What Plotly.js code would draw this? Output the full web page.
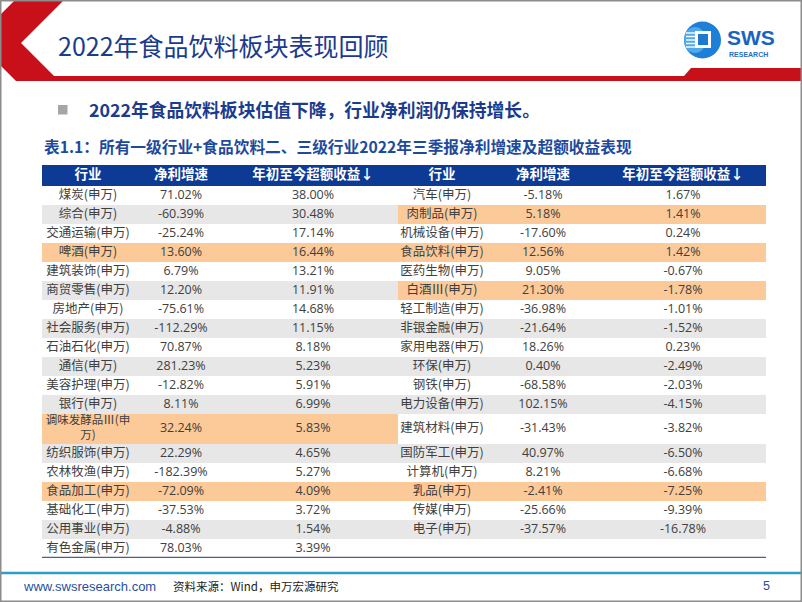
<!DOCTYPE html>
<html><head><meta charset="utf-8">
<script src="https://cdn.plot.ly/plotly-3.0.1.min.js"></script>
<style>html,body{margin:0;padding:0;background:#fff}#chart{width:802px;height:602px}</style>
</head><body><div id="chart"></div>
<script>
// ---------- data ----------
const headers = ['行业', '净利增速', '年初至今超额收益↓'];

const leftIndustry = ['煤炭(申万)','综合(申万)','交通运输(申万)','啤酒(申万)','建筑装饰(申万)','商贸零售(申万)','房地产(申万)','社会服务(申万)','石油石化(申万)','通信(申万)','美容护理(申万)','银行(申万)','调味发酵品Ⅲ(申万)','纺织服饰(申万)','农林牧渔(申万)','食品加工(申万)','基础化工(申万)','公用事业(申万)','有色金属(申万)'];
const leftGrowth = [71.02,-60.39,-25.24,13.60,6.79,12.20,-75.61,-112.29,70.87,281.23,-12.82,8.11,32.24,22.29,-182.39,-72.09,-37.53,-4.88,78.03];
const leftExcess = [38.00,30.48,17.14,16.44,13.21,11.91,14.68,11.15,8.18,5.23,5.91,6.99,5.83,4.65,5.27,4.09,3.72,1.54,3.39];

const rightIndustry = ['汽车(申万)','肉制品(申万)','机械设备(申万)','食品饮料(申万)','医药生物(申万)','白酒Ⅲ(申万)','轻工制造(申万)','非银金融(申万)','家用电器(申万)','环保(申万)','钢铁(申万)','电力设备(申万)','建筑材料(申万)','国防军工(申万)','计算机(申万)','乳品(申万)','传媒(申万)','电子(申万)'];
const rightGrowth = [-5.18,5.18,-17.60,12.56,9.05,21.30,-36.98,-21.64,18.26,0.40,-68.58,102.15,-31.43,40.97,8.21,-2.41,-25.66,-37.57];
const rightExcess = [1.67,1.41,0.24,1.42,-0.67,-1.78,-1.01,-1.52,0.23,-2.49,-2.03,-4.15,-3.82,-6.50,-6.68,-7.25,-9.39,-16.78];

const highlighted = ['啤酒(申万)','调味发酵品Ⅲ(申万)','食品加工(申万)','肉制品(申万)','食品饮料(申万)','白酒Ⅲ(申万)','乳品(申万)'];

// ---------- layout constants ----------
const W = 802, H = 602;
const FONT = "'Open Sans','Noto Sans CJK SC',sans-serif";
const CJK = "'Noto Sans CJK SC','Open Sans',sans-serif";
const colEdges = [0, 92, 186, 356, 444, 558, 724];
const headerH = 21, rowH = 19, tallRowH = 30;
const BLUE_HDR = '#0c3a94', ORANGE = '#fcc998', GREY = '#e7e7e7', TXT = '#404040';
const TITLE_BLUE = '#1a3b8e';
const BODY_SIZE = 12.5, WRAP_SIZE = 11.5;

const ctx = document.createElement('canvas').getContext('2d');
function measure(s, size) {
  ctx.font = size + "px 'Noto Sans CJK SC', sans-serif";
  return ctx.measureText(s).width;
}
function wrap(s, maxW, size) {
  if (measure(s, size) <= maxW) return [s];
  const lines = []; let cur = '';
  for (const ch of s) {
    if (cur && measure(cur + ch, WRAP_SIZE) > maxW - 4) { lines.push(cur); cur = ch; }
    else cur += ch;
  }
  if (cur) lines.push(cur);
  return lines;
}
const fmt = v => v.toFixed(2) + '%';

const halves = [
  {ind: leftIndustry, g: leftGrowth, e: leftExcess, c0: 0},
  {ind: rightIndustry, g: rightGrowth, e: rightExcess, c0: 3}
];
const nRows = Math.max(leftIndustry.length, rightIndustry.length);

halves.forEach(h => {
  const cw = colEdges[h.c0 + 1] - colEdges[h.c0];
  h.lines = h.ind.map(s => wrap(s, cw, BODY_SIZE));
});

const rowHeights = [];
for (let i = 0; i < nRows; i++) {
  let nl = 1;
  halves.forEach(h => { if (h.lines[i]) nl = Math.max(nl, h.lines[i].length); });
  rowHeights.push(nl > 1 ? tallRowH : rowH);
}
const rowTops = []; let acc = headerH;
rowHeights.forEach(rh => { rowTops.push(acc); acc += rh; });
const totalH = acc;

const colCenter = c => (colEdges[c] + colEdges[c + 1]) / 2;

// ---------- shapes ----------
const shapes = [];
shapes.push({type:'rect', xref:'x', yref:'y', x0:colEdges[0], x1:colEdges[6], y0:0, y1:headerH,
  fillcolor:BLUE_HDR, line:{width:0}, layer:'below'});
halves.forEach(h => {
  h.ind.forEach((name, i) => {
    let col = null;
    if (highlighted.includes(name)) col = ORANGE;
    else if (i % 2 === 1) col = GREY;
    if (!col) return;
    shapes.push({type:'rect', xref:'x', yref:'y', x0:colEdges[h.c0], x1:colEdges[h.c0 + 3],
      y0:rowTops[i], y1:rowTops[i] + rowHeights[i], fillcolor:col, line:{width:0}, layer:'below'});
  });
});
shapes.push({type:'line', xref:'x', yref:'y', x0:colEdges[0], x1:colEdges[6], y0:totalH, y1:totalH,
  line:{color:'#4e5d8e', width:2.5}});

const px = x => x / W, py = y => 1 - y / H;
const P = (x, y) => px(x) + ',' + py(y);
shapes.push({type:'path', xref:'paper', yref:'paper',
  path:'M'+P(15,0)+' L'+P(64,0)+' L'+P(21,43)+' L'+P(54,76)+' L'+P(684,76)+' L'+P(691,68)+' L'+P(802,68)+
       ' L'+P(802,81)+' L'+P(16,81)+' L'+P(0,65)+' L'+P(0,15)+' Z',
  fillcolor:'#c8101a', line:{width:0}});
// logo
shapes.push({type:'circle', xref:'paper', yref:'paper', x0:px(684), x1:px(721), y0:py(58.5), y1:py(21.5),
  fillcolor:'#1e7fd6', line:{width:0}});
shapes.push({type:'circle', xref:'paper', yref:'paper', x0:px(684), x1:px(706), y0:py(53), y1:py(27),
  fillcolor:'#4fa9ea', line:{width:0}});
[33,36.5,40,43.5,47].forEach(y => shapes.push({type:'line', xref:'paper', yref:'paper',
  x0:px(686), x1:px(697), y0:py(y), y1:py(y), line:{color:'#ffffff', width:1.4}}));
shapes.push({type:'rect', xref:'paper', yref:'paper', x0:px(695), x1:px(711), y0:py(48), y1:py(31),
  fillcolor:'#ffffff', line:{width:0}});
shapes.push({type:'rect', xref:'paper', yref:'paper', x0:px(698), x1:px(708), y0:py(45), y1:py(34),
  fillcolor:'#1f78d0', line:{width:0}});
shapes.push({type:'rect', xref:'paper', yref:'paper', x0:px(58), x1:px(67.5), y0:py(114.5), y1:py(105),
  fillcolor:'#a6a6a6', line:{width:0}});
shapes.push({type:'line', xref:'paper', yref:'paper', x0:0, x1:1, y0:py(573), y1:py(573),
  line:{color:'#2f9fc6', width:2.5}});
shapes.push({type:'rect', xref:'paper', yref:'paper', x0:px(0.75), x1:px(801.25), y0:py(601.25), y1:py(0.75),
  line:{color:'#8c8c8c', width:1.5}, fillcolor:'rgba(0,0,0,0)'});

// ---------- traces ----------
const hx = [], hy = [], ht = [];
[0, 3].forEach(c0 => headers.forEach((t, k) => { hx.push(colCenter(c0 + k)); hy.push(headerH / 2); ht.push(t); }));
const lx = [], ly = [], lt = [], ls = [];
const bx = [], by = [], bt = [];
halves.forEach(h => {
  h.ind.forEach((name, i) => {
    const yc = rowTops[i] + rowHeights[i] / 2;
    lx.push(colCenter(h.c0)); ly.push(yc); lt.push(h.lines[i].join('<br>'));
    ls.push(h.lines[i].length > 1 ? WRAP_SIZE : BODY_SIZE);
    bx.push(colCenter(h.c0 + 1)); by.push(yc); bt.push(fmt(h.g[i]));
    bx.push(colCenter(h.c0 + 2)); by.push(yc); bt.push(fmt(h.e[i]));
  });
});

const traces = [
  {type:'scatter', mode:'text', x:hx, y:hy, text:ht, textposition:'middle center', hoverinfo:'skip',
   cliponaxis:false, showlegend:false, textfont:{family:CJK, size:13.5, color:'#ffffff', weight:'bold'}},
  {type:'scatter', mode:'text', x:lx, y:ly, text:lt, textposition:'middle center', hoverinfo:'skip',
   cliponaxis:false, showlegend:false, textfont:{family:CJK, size:ls, color:TXT}},
  {type:'scatter', mode:'text', x:bx, y:by, text:bt, textposition:'middle center', hoverinfo:'skip',
   cliponaxis:false, showlegend:false, textfont:{family:FONT, size:BODY_SIZE, color:TXT}}
];

const annotations = [
  {xref:'paper', yref:'paper', x:px(56), y:py(45), xanchor:'left', yanchor:'middle', showarrow:false,
   text:'2022年食品饮料板块表现回顾', font:{family:CJK, size:25, color:TITLE_BLUE}},
  {xref:'paper', yref:'paper', x:px(87), y:py(109), xanchor:'left', yanchor:'middle', showarrow:false,
   text:'<b>2022年食品饮料板块估值下降，行业净利润仍保持增长。</b>', font:{family:CJK, size:17.8, color:TITLE_BLUE}},
  {xref:'paper', yref:'paper', x:px(42), y:py(146), xanchor:'left', yanchor:'middle', showarrow:false,
   text:'<b>表1.1：所有一级行业+食品饮料二、三级行业2022年三季报净利增速及超额收益表现</b>', font:{family:CJK, size:15.7, color:'#1e4a9c'}},
  {xref:'paper', yref:'paper', x:px(725), y:py(38), xanchor:'left', yanchor:'middle', showarrow:false,
   text:'<b>SWS</b>', font:{family:"'Liberation Sans',Arial,sans-serif", size:21, color:'#1a64c0'}},
  {xref:'paper', yref:'paper', x:px(727), y:py(54), xanchor:'left', yanchor:'middle', showarrow:false,
   text:'<b>RESEARCH</b>', font:{family:"'Liberation Sans',Arial,sans-serif", size:7, color:'#1f6fc0'}},
  {xref:'paper', yref:'paper', x:px(21), y:py(586), xanchor:'left', yanchor:'middle', showarrow:false,
   text:'www.swsresearch.com', font:{family:"'Liberation Sans',Arial,sans-serif", size:13, color:'#1f4f9f'}},
  {xref:'paper', yref:'paper', x:px(171), y:py(586), xanchor:'left', yanchor:'middle', showarrow:false,
   text:'资料来源：Wind，申万宏源研究', font:{family:CJK, size:11.5, color:'#222222'}},
  {xref:'paper', yref:'paper', x:px(766), y:py(586), xanchor:'center', yanchor:'middle', showarrow:false,
   text:'5', font:{family:"'Liberation Sans',Arial,sans-serif", size:12.5, color:'#1f4f9f'}}
];

const layout = {
  width:W, height:H, margin:{l:0, r:0, t:0, b:0},
  paper_bgcolor:'#ffffff', plot_bgcolor:'rgba(0,0,0,0)',
  showlegend:false,
  xaxis:{domain:[px(42), px(766)], range:[colEdges[0], colEdges[6]], visible:false, fixedrange:true},
  yaxis:{domain:[py(165 + totalH), py(165)], range:[totalH, 0], visible:false, fixedrange:true},
  shapes:shapes, annotations:annotations
};

Plotly.newPlot('chart', traces, layout, {displayModeBar:false, staticPlot:true});
</script></body></html>
